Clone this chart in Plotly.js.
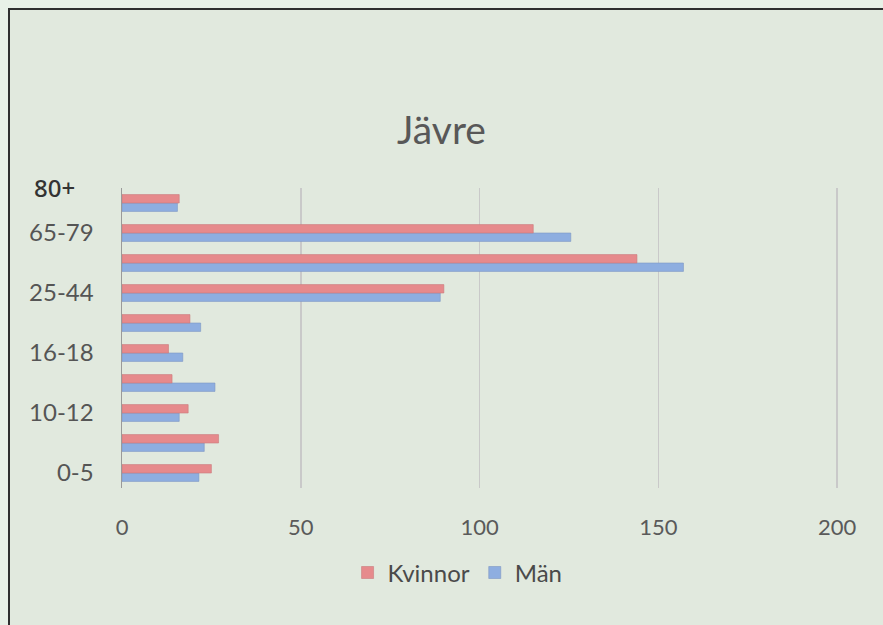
<!DOCTYPE html>
<html>
<head>
<meta charset="utf-8">
<script src="https://cdn.plot.ly/plotly-3.0.1.min.js"></script>
<style>
  html, body { margin: 0; padding: 0; background: #e8f1e7; width: 883px; height: 625px; overflow: hidden; }
  #frame { position: absolute; left: 8px; top: 8px; right: -20px; bottom: -20px; background: #e1e9de;
           border-left: 2px solid #2f2f2f; border-top: 2px solid #2f2f2f; }
  #chart { position: absolute; left: 0; top: 0; width: 883px; height: 625px; }
</style>
</head>
<body>
<div id="frame"></div>
<div id="chart"></div>
<script>
const categories = ["0-5", "6-9", "10-12", "13-15", "16-18", "19-24", "25-44", "45-64", "65-79", "80+"];
const kvinnor = [25, 27, 18.5, 14, 13, 19, 90, 144, 115, 16];
const man = [21.5, 23, 16, 26, 17, 22, 89, 157, 125.5, 15.5];
const shownTicks = ["0-5", "10-12", "16-18", "25-44", "65-79"];
const xTicks = [0, 50, 100, 150, 200];

const traces = [
  { type: "bar", orientation: "h", name: "Män", y: categories, x: man,
    marker: { color: "#8eaee0", line: { color: "#7d97c2", width: 0.6 } }, legendrank: 2 },
  { type: "bar", orientation: "h", name: "Kvinnor", y: categories, x: kvinnor,
    marker: { color: "#e68a8c", line: { color: "#c97b7c", width: 0.6 } }, legendrank: 1 }
];

const layout = {
  width: 883, height: 625,
  paper_bgcolor: "rgba(0,0,0,0)", plot_bgcolor: "rgba(0,0,0,0)",
  margin: { l: 122, r: 44, t: 188, b: 137 },
  barmode: "group", bargap: 0.44, bargroupgap: 0,
  font: { family: "Lato, 'Open Sans', sans-serif", color: "#555555", size: 22 },
  title: { text: "Jävre", x: 0.5, xref: "container", y: 0.792, yref: "container", yanchor: "middle",
           font: { family: "Lato, sans-serif", size: 39, color: "#585858" } },
  xaxis: { range: [0, 200.5], tickvals: xTicks, ticktext: xTicks.map(String), showgrid: true,
           gridcolor: "#c9c9c9", gridwidth: 1.5, zeroline: false, showline: false, ticks: "",
           ticklabelstandoff: 24, tickfont: { size: 22, color: "#5a5a5a" }, fixedrange: true },
  yaxis: { type: "category", categoryorder: "array", categoryarray: categories,
           tickvals: shownTicks, ticktext: shownTicks, showgrid: false, zeroline: false,
           showline: true, linecolor: "#9a9a9a", linewidth: 1.5, ticks: "",
           ticklabelstandoff: 22, tickfont: { size: 24, color: "#555555" }, fixedrange: true },
  legend: { orientation: "h", x: 0.468, xanchor: "center", y: -0.283, yanchor: "middle",
            font: { size: 24, color: "#4a4a4a" }, bgcolor: "rgba(0,0,0,0)", itemwidth: 30 },
  annotations: [
    { text: "80+", xref: "paper", yref: "paper", x: -0.094, y: 1.003, xanchor: "center", yanchor: "middle",
      showarrow: false, font: { family: "'Noto Sans', sans-serif", size: 24, weight: 500, color: "#333333" } }
  ],
  showlegend: true
};

Plotly.newPlot("chart", traces, layout, { displayModeBar: false, staticPlot: true });
</script>
</body>
</html>
